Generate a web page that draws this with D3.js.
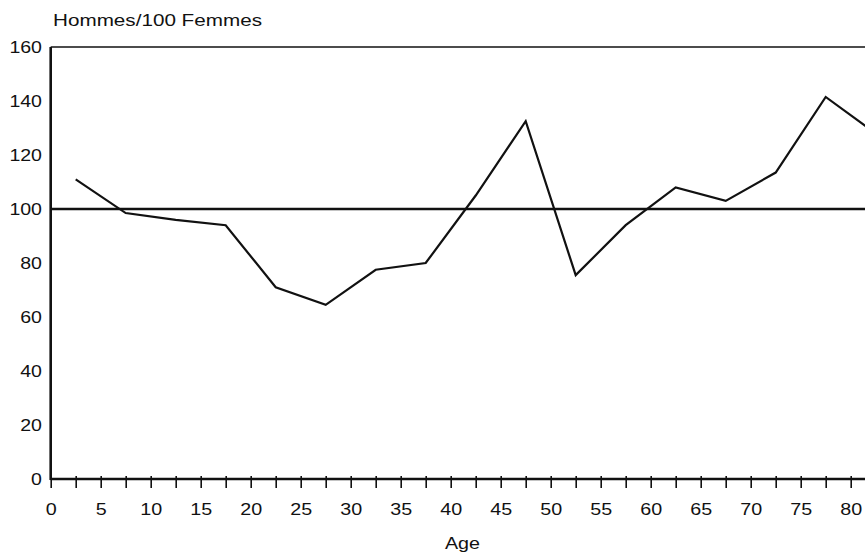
<!DOCTYPE html>
<html>
<head>
<meta charset="utf-8">
<script src="https://cdn.jsdelivr.net/npm/d3@7"></script>
<style>
  body { margin: 0; background: #fff; }
  text { font-family: "Liberation Sans", Arial, Helvetica, sans-serif; fill: #111; }
</style>
</head>
<body>
<div id="chart-area"></div>
<script>
const W = 865
const H = 560

// data: sex ratio by 5-year age group (midpoints)
const ages = [2.5, 7.5, 12.5, 17.5, 22.5, 27.5, 32.5, 37.5, 42.5, 47.5, 52.5, 57.5, 62.5, 67.5, 72.5, 77.5, 82.5]
const ratio = [111, 98.5, 96, 94, 71, 64.5, 77.5, 80, 105, 132.5, 75.5, 94, 108, 103, 113.5, 141.5, 128]
const xTicks = d3.range(0, 80.1, 2.5)
const yTicks = [0, 20, 40, 60, 80, 100, 120, 140, 160]
const refValue = 100

const svg = d3.select("#chart-area").append("svg")
  .attr("width", W)
  .attr("height", H)

const x = d3.scaleLinear()
  .domain([0, 81.43])
  .range([50.7, 865])

const y = d3.scaleLinear()
  .domain([0, 160])
  .range([479, 47])

// title
svg.append("text")
  .attr("x", 53)
  .attr("y", 26)
  .style("font-size", "16px")
  .attr("textLength", 209)
  .attr("lengthAdjust", "spacingAndGlyphs")
  .text("Hommes/100 Femmes")

// x axis
const xAxisCall = d3.axisBottom(x)
  .tickValues(xTicks)
  .tickSizeInner(9)
  .tickSizeOuter(0)
  .tickFormat(d => d % 5 === 0 ? d : "")

const xg = svg.append("g")
  .attr("transform", `translate(0, ${y(0)})`)
  .call(xAxisCall)
xg.select(".domain").remove()
xg.selectAll(".tick line").attr("stroke", "#111").attr("stroke-width", 1.6).attr("y1", -3)
xg.selectAll("text")
  .attr("y", 36)
  .attr("dy", null)
  .attr("transform", "scale(1.16,1)")
  .style("font-size", "17px")
  .attr("fill", "#111")

// y axis
const yAxisCall = d3.axisLeft(y)
  .tickValues(yTicks)
  .tickSize(0)

const yg = svg.append("g")
  .attr("transform", `translate(${x(0)}, 0)`)
  .call(yAxisCall)
yg.select(".domain").remove()
yg.selectAll("text")
  .attr("x", -7.6)
  .attr("transform", "scale(1.15,1)")
  .style("font-size", "17px")
  .attr("fill", "#111")

// frame lines
svg.append("line")
  .attr("x1", x(0)).attr("x2", W)
  .attr("y1", y(0)).attr("y2", y(0))
  .attr("stroke", "#111").attr("stroke-width", 2.6)

svg.append("line")
  .attr("x1", x(0)).attr("x2", x(0))
  .attr("y1", y(0) + 1).attr("y2", y(160))
  .attr("stroke", "#111").attr("stroke-width", 2.6)

svg.append("line")
  .attr("x1", x(0)).attr("x2", W)
  .attr("y1", y(160)).attr("y2", y(160))
  .attr("stroke", "#111").attr("stroke-width", 1.6)

// reference line at 100
svg.append("line")
  .attr("x1", x(0)).attr("x2", W)
  .attr("y1", y(refValue)).attr("y2", y(refValue))
  .attr("stroke", "#111").attr("stroke-width", 2.4)

// data line
const line = d3.line()
  .x((d, i) => x(ages[i]))
  .y(d => y(d))

svg.append("path")
  .datum(ratio)
  .attr("fill", "none")
  .attr("stroke", "#111")
  .attr("stroke-width", 2.2)
  .attr("stroke-linejoin", "miter")
  .attr("d", line)

// x label
svg.append("text")
  .attr("x", 445)
  .attr("y", 549)
  .style("font-size", "16px")
  .attr("textLength", 35)
  .attr("lengthAdjust", "spacingAndGlyphs")
  .text("Age")
</script>
</body>
</html>
